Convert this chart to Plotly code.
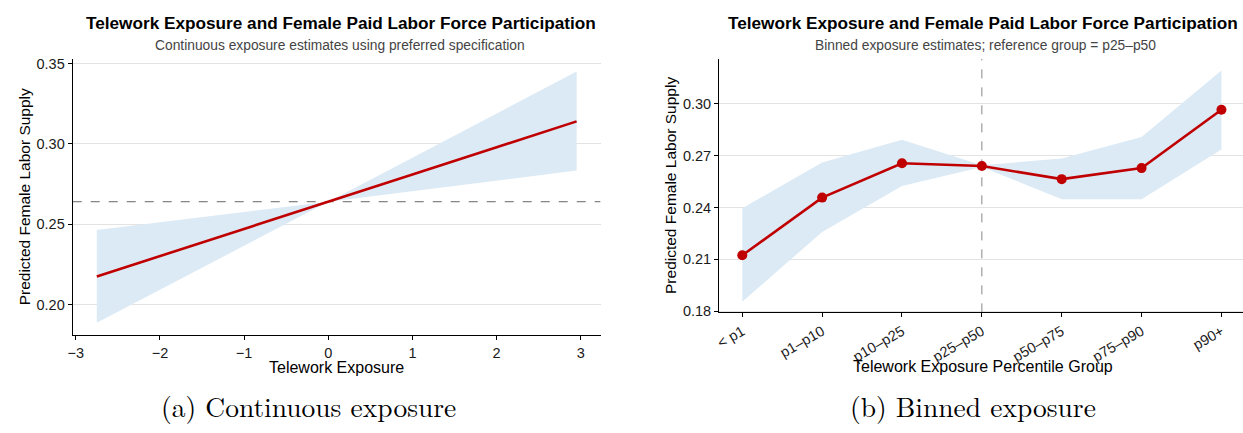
import plotly.graph_objects as go

# ---------------- data ----------------
# Panel (a): continuous exposure
cont_x = [-2.75, -2.0, -1.0, 0.0, 1.0, 2.0, 2.95]
cont_fit = [0.2175, 0.2301, 0.2471, 0.2640, 0.2809, 0.2979, 0.3140]
cont_hi = [0.2464, 0.2512, 0.2576, 0.2640, 0.2914, 0.3189, 0.3450]
cont_lo = [0.1887, 0.2092, 0.2366, 0.2640, 0.2705, 0.2771, 0.2834]
cont_ref = 0.264

# Panel (b): binned exposure
bin_labels = ["< p1", "p1–p10", "p10–p25", "p25–p50", "p50–p75", "p75–p90", "p90+"]
bin_fit = [0.2123, 0.2457, 0.2656, 0.2640, 0.2564, 0.2628, 0.2966]
bin_hi = [0.2396, 0.2660, 0.2792, 0.2645, 0.2683, 0.2808, 0.3194]
bin_lo = [0.1853, 0.2258, 0.2525, 0.2635, 0.2447, 0.2447, 0.2736]
bin_ref = "p25–p50"

left_yticks = [0.20, 0.25, 0.30, 0.35]
left_xticks = [-3, -2, -1, 0, 1, 2, 3]
right_yticks = [0.18, 0.21, 0.24, 0.27, 0.30]

# ---------------- styling ----------------
RED = "#C00000"
BAND = "#DCEAF5"
W, H = 1243, 433
bin_idx = list(range(len(bin_labels)))


def py(y):
    return 1 - y / H


fig = go.Figure()

# Panel (a)
fig.add_trace(go.Scatter(x=cont_x + cont_x[::-1], y=cont_hi + cont_lo[::-1],
                         fill="toself", fillcolor=BAND, line=dict(width=0),
                         mode="lines", hoverinfo="skip", showlegend=False,
                         xaxis="x", yaxis="y"))
fig.add_trace(go.Scatter(x=[-3.036, 3.235], y=[cont_ref, cont_ref], mode="lines",
                         line=dict(color="#666666", width=1, dash="dash"),
                         showlegend=False, xaxis="x", yaxis="y"))
fig.add_trace(go.Scatter(x=cont_x, y=cont_fit, mode="lines",
                         line=dict(color=RED, width=2.6), showlegend=False,
                         xaxis="x", yaxis="y"))

# Panel (b)
fig.add_trace(go.Scatter(x=bin_idx + bin_idx[::-1], y=bin_hi + bin_lo[::-1],
                         fill="toself", fillcolor=BAND, line=dict(width=0),
                         mode="lines", hoverinfo="skip", showlegend=False,
                         xaxis="x2", yaxis="y2"))
ref_i = bin_labels.index(bin_ref)
fig.add_trace(go.Scatter(x=[ref_i, ref_i], y=[0.1792, 0.3262], mode="lines",
                         line=dict(color="#888888", width=1, dash="dash"),
                         showlegend=False, xaxis="x2", yaxis="y2"))
fig.add_trace(go.Scatter(x=bin_idx, y=bin_fit, mode="lines+markers",
                         line=dict(color=RED, width=2.6),
                         marker=dict(color=RED, size=10),
                         showlegend=False, xaxis="x2", yaxis="y2"))

font_main = "Liberation Sans, Arial, sans-serif"
axis_common = dict(showline=True, linecolor="black", linewidth=1.2,
                   ticks="outside", ticklen=4, tickcolor="black", tickwidth=1,
                   tickfont=dict(size=14.5, color="#1a1a1a", family=font_main),
                   zeroline=False)

fig.update_layout(
    width=W, height=H,
    margin=dict(l=0, r=0, t=0, b=0),
    paper_bgcolor="white", plot_bgcolor="white",
    font=dict(family=font_main, color="black"),
    xaxis=dict(domain=[68 / W, 598 / W], range=[-3.036, 3.235],
               tickvals=left_xticks,
               ticktext=[("−" + str(abs(v))) if v < 0 else str(v) for v in left_xticks],
               showgrid=False, anchor="y", **axis_common),
    yaxis=dict(domain=[py(340), py(57)], range=[0.181, 0.353],
               tickvals=left_yticks, ticktext=[f"{v:.2f}" for v in left_yticks],
               showgrid=True, gridcolor="#e3e3e3", gridwidth=1, anchor="x",
               **axis_common),
    xaxis2=dict(domain=[717 / W, 1.0], range=[-0.29, 6.27],
                tickvals=bin_idx, ticktext=bin_labels, tickangle=-30,
                showgrid=False, anchor="y2", **axis_common),
    yaxis2=dict(domain=[py(316.7), py(57)], range=[0.1792, 0.3262],
                tickvals=right_yticks, ticktext=[f"{v:.2f}" for v in right_yticks],
                showgrid=True, gridcolor="#e3e3e3", gridwidth=1, anchor="x2",
                **axis_common),
)

ann = []
def add_text(x, y, text, size, color="black", bold=False, angle=0, family=font_main):
    ann.append(dict(x=x / W, y=py(y), xref="paper", yref="paper",
                    text=f"<b>{text}</b>" if bold else text, showarrow=False,
                    xanchor="center", yanchor="middle", textangle=angle,
                    font=dict(size=size, color=color, family=family)))

title = "Telework Exposure and Female Paid Labor Force Participation"
add_text(337, 20, title, 17.2, bold=True)
add_text(336, 43, "Continuous exposure estimates using preferred specification", 13.8, color="#444444")
add_text(982, 20, title, 17.2, bold=True)
add_text(984, 43, "Binned exposure estimates; reference group = p25–p50", 13.8, color="#444444")
add_text(333, 373, "Telework Exposure", 16)
add_text(982, 372, "Telework Exposure Percentile Group", 16)
add_text(20, 198, "Predicted Female Labor Supply", 15.5, angle=-90)
add_text(668, 187, "Predicted Female Labor Supply", 15.5, angle=-90)
serif = "Latin Modern Roman, CMU Serif, Liberation Serif, DejaVu Serif, serif"
add_text(305, 412, "(a) Continuous exposure", 27.5, family=serif)
add_text(972, 412, "(b) Binned exposure", 27.5, family=serif)
fig.update_layout(annotations=ann)

post = (
    "document.documentElement.style.margin='0';"
    "document.body.style.margin='0';"
    "document.body.style.overflow='hidden';"
    "document.documentElement.style.overflow='hidden';"
)
fig.write_html("out.html", config={"displayModeBar": False}, post_script=post)
